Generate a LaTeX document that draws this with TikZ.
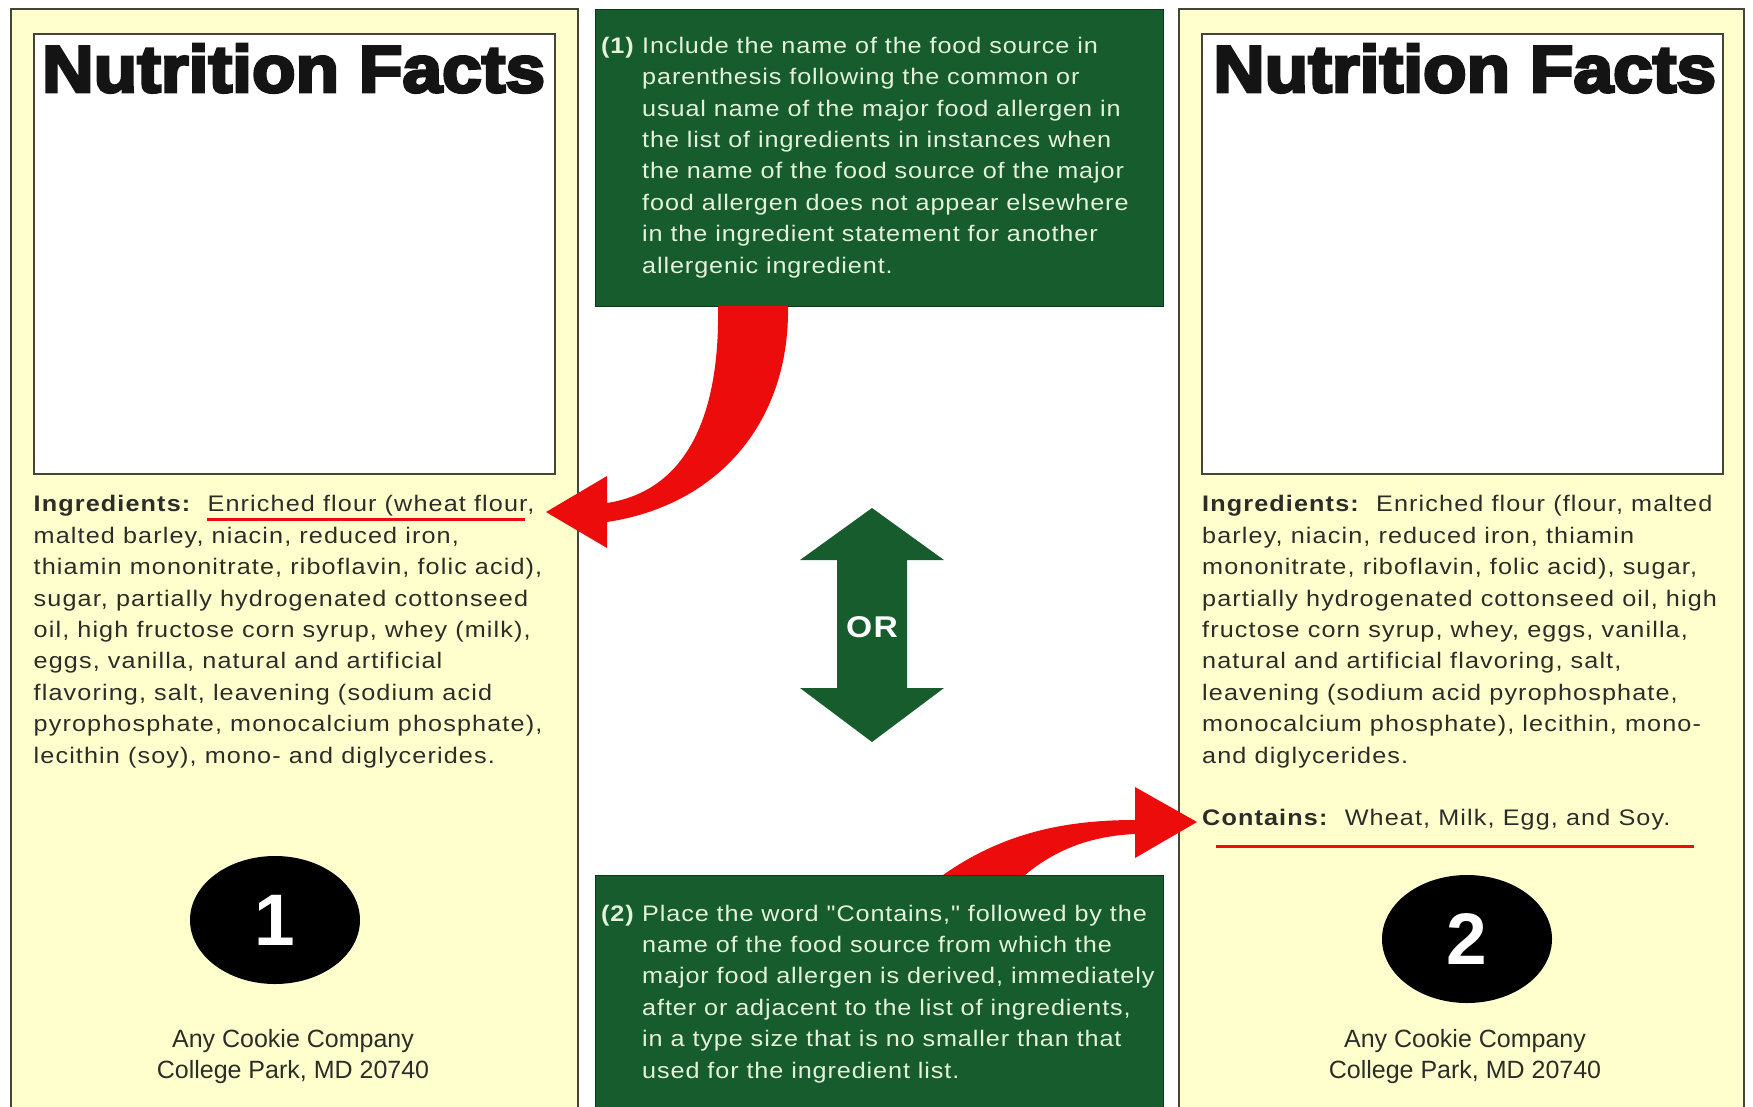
\documentclass[tikz,border=0pt]{standalone}
\usepackage{fontspec}
\setmainfont{Liberation Sans}
\newfontfamily\bodyface[FakeStretch=1.12,LetterSpace=5]{Liberation Sans}
\newfontfamily\noteface[FakeStretch=1.12,LetterSpace=4]{Liberation Sans}
\newfontfamily\titleface[FakeStretch=1.08,FakeBold=4.5]{Liberation Sans}
\usetikzlibrary{shapes.geometric}

\definecolor{panelyellow}{RGB}{255,255,206}
\definecolor{panelline}{RGB}{70,70,55}
\definecolor{notegreen}{RGB}{22,92,44}
\definecolor{notemint}{RGB}{228,242,220}
\definecolor{markred}{RGB}{236,12,12}
\definecolor{inkgray}{RGB}{45,45,40}

\newcommand{\ingfont}{\bodyface\fontsize{22.5}{31.4}\selectfont}
\newcommand{\notefont}{\noteface\fontsize{22.5}{31.4}\selectfont}
\newcommand{\factsfont}{\titleface\bfseries\fontsize{66}{66}\selectfont}
\newcommand{\addrfont}{\fontsize{25}{31}\selectfont}
\newcommand{\badgefont}{\bfseries\fontsize{73}{73}\selectfont}
\newcommand{\orfont}{\bodyface\bfseries\fontsize{30}{30}\selectfont}

\begin{document}
\begin{tikzpicture}[x=1pt,y=-1pt,
  panel/.style={draw=panelline,line width=2.5pt,fill=panelyellow},
  factsbox/.style={draw=panelline,line width=2.5pt,fill=white},
  notebox/.style={fill=notegreen,draw=notegreen!60!black,line width=1pt},
  heading/.style={anchor=base west,inner sep=0pt,font=\factsfont,text=black!92},
  ingtext/.style={anchor=base west,inner sep=0pt,align=left,font=\ingfont,text=inkgray},
  notetext/.style={anchor=base west,inner sep=0pt,align=left,font=\notefont,text=notemint},
  addr/.style={anchor=base,inner sep=0pt,align=center,font=\addrfont,text=inkgray},
  badge/.style={ellipse,fill=black,minimum width=170pt,minimum height=128pt,text=white,font=\badgefont},
  underline/.style={draw=markred,line width=3pt},
  pointer/.style={fill=markred}]
\useasboundingbox (0,0) rectangle (1753,1106);
\clip (0,0) rectangle (1753,1106);

% the two labels
\draw[panel] (11,9) rectangle (578,1130);
\draw[panel] (1179,9) rectangle (1744,1130);
\draw[factsbox] (34,34) rectangle (555,474);
\draw[factsbox] (1202,34) rectangle (1723,474);

\node[heading] (factsL) at (42,92) {Nutrition Facts};
\node[heading] (factsR) at (1213,92) {Nutrition Facts};

% multi-line texts sit on the baseline of their last line
\node[ingtext] (ingL) at (33.5,763) {\textbf{Ingredients:}\ \ Enriched flour (wheat flour,\\
malted barley, niacin, reduced iron,\\
thiamin mononitrate, riboflavin, folic acid),\\
sugar, partially hydrogenated cottonseed\\
oil, high fructose corn syrup, whey (milk),\\
eggs, vanilla, natural and artificial\\
flavoring, salt, leavening (sodium acid\\
pyrophosphate, monocalcium phosphate),\\
lecithin (soy), mono- and diglycerides.};
\node[ingtext] (ingR) at (1202,763) {\textbf{Ingredients:}\ \ Enriched flour (flour, malted\\
barley, niacin, reduced iron, thiamin\\
mononitrate, riboflavin, folic acid), sugar,\\
partially hydrogenated cottonseed oil, high\\
fructose corn syrup, whey, eggs, vanilla,\\
natural and artificial flavoring, salt,\\
leavening (sodium acid pyrophosphate,\\
monocalcium phosphate), lecithin, mono-\\
and diglycerides.};
\node[ingtext] (containsR) at (1202,825) {\textbf{Contains:}\ \ Wheat, Milk, Egg, and Soy.};

\draw[underline] (207,519) -- (525,519);
\draw[underline] (1216,846) -- (1694,846);

\node[badge] (badge1) at (275,920) {1};
\node[badge] (badge2) at (1467,939) {2};

\node[addr] (addrL) at (293,1078) {Any Cookie Company\\College Park, MD 20740};
\node[addr] (addrR) at (1465,1078) {Any Cookie Company\\College Park, MD 20740};

% the two notes
\draw[notebox] (595,9) rectangle (1163,306);
\draw[notebox] (595,875) rectangle (1163,1130);

\node[notetext] (note1num) at (601,53) {\textbf{(1)}};
\node[notetext] (note1body) at (642,273) {Include the name of the food source in\\
parenthesis following the common or\\
usual name of the major food allergen in\\
the list of ingredients in instances when\\
the name of the food source of the major\\
food allergen does not appear elsewhere\\
in the ingredient statement for another\\
allergenic ingredient.};
\node[notetext] (note2num) at (601,921) {\textbf{(2)}};
\node[notetext] (note2body) at (642,1078) {Place the word "Contains," followed by the\\
name of the food source from which the\\
major food allergen is derived, immediately\\
after or adjacent to the list of ingredients,\\
in a type size that is no smaller than that\\
used for the ingredient list.};

% or arrow
\fill[notegreen] (872,508) -- (944,560) -- (907,560) -- (907,688) -- (944,688)
  -- (872,742) -- (800,688) -- (837,688) -- (837,560) -- (800,560) -- cycle;
\node[font=\orfont,text=white] (orword) at (872,627) {OR};

% red pointers
\fill[pointer] (788,306) .. controls (790,420) and (720,505) .. (607,522)
  -- (607,548) -- (546,512) -- (607,476) -- (607,503)
  .. controls (690,490) and (720,410) .. (718,306) -- cycle;
\fill[pointer] (943,875) .. controls (1000,835) and (1060,820) .. (1135,820)
  -- (1135,787) -- (1197,822) -- (1135,858) -- (1135,834)
  .. controls (1090,836) and (1055,850) .. (1025,875) -- cycle;
\end{tikzpicture}
\end{document}
